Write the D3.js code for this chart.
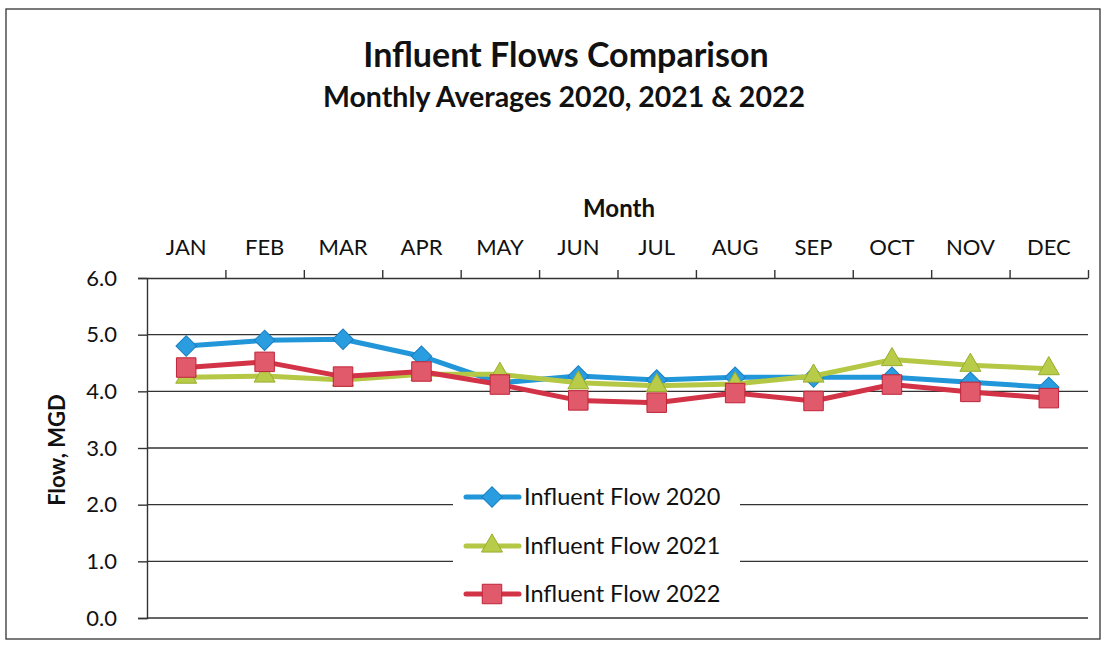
<!DOCTYPE html>
<html>
<head>
<meta charset="utf-8">
<script src="https://cdn.jsdelivr.net/npm/d3@7"></script>
<style>
  html, body { margin: 0; padding: 0; background: #fff; }
  svg { display: block; font-family: Lato, "Open Sans", sans-serif; }
</style>
</head>
<body>
<svg id="chart" width="1105" height="647"></svg>
<script>
const months = ["JAN","FEB","MAR","APR","MAY","JUN","JUL","AUG","SEP","OCT","NOV","DEC"];
const flow2020 = [4.80, 4.90, 4.92, 4.62, 4.15, 4.27, 4.20, 4.25, 4.25, 4.25, 4.16, 4.07];
const flow2021 = [4.25, 4.27, 4.20, 4.30, 4.30, 4.15, 4.10, 4.13, 4.27, 4.56, 4.46, 4.40];
const flow2022 = [4.42, 4.52, 4.26, 4.35, 4.12, 3.84, 3.80, 3.97, 3.83, 4.12, 3.99, 3.88];
const seriesNames = ["Influent Flow 2020", "Influent Flow 2021", "Influent Flow 2022"];
const yTicks = [0, 1, 2, 3, 4, 5, 6];

const svg = d3.select("#chart");
const plot = { left: 147, right: 1088, top: 278, bottom: 618 };

// outer border
svg.append("rect").attr("x", 6).attr("y", 9).attr("width", 1094).attr("height", 630)
  .attr("fill", "#fff").attr("stroke", "#333").attr("stroke-width", 1.3);

// titles
svg.append("text").attr("x", 566).attr("y", 67).attr("text-anchor", "middle")
  .attr("font-size", 34).attr("font-weight", 700).attr("fill", "#111")
  .text("Influent Flows Comparison");
svg.append("text").attr("x", 564).attr("y", 107).attr("text-anchor", "middle")
  .attr("font-size", 28.5).attr("font-weight", 700).attr("fill", "#111")
  .text("Monthly Averages 2020, 2021 & 2022");

const x = d3.scaleBand().domain(months).range([plot.left, plot.right]).paddingInner(0).paddingOuter(0);
const xIdx = d3.scaleLinear().domain([0, months.length]).range([plot.left, plot.right]);
const y = d3.scaleLinear().domain([0, 6]).range([plot.bottom, plot.top]);
const cx = m => x(m) + x.bandwidth() / 2;

// gridlines
svg.append("g").selectAll("line").data(yTicks.filter(t => t < 6)).join("line")
  .attr("x1", plot.left).attr("x2", plot.right)
  .attr("y1", d => y(d)).attr("y2", d => y(d))
  .attr("stroke", "#333").attr("stroke-width", 1.4);

// y axis
const yAxis = svg.append("g").attr("transform", `translate(${plot.left},0)`)
  .call(d3.axisLeft(y).tickValues(yTicks).tickFormat(d3.format(".1f")).tickSize(9).tickPadding(21));
yAxis.select(".domain").attr("stroke", "#333").attr("stroke-width", 1.4);
yAxis.selectAll(".tick line").attr("stroke", "#333").attr("stroke-width", 1.4);
yAxis.selectAll(".tick text").attr("font-size", 22).attr("fill", "#111")
  .attr("font-family", "Lato, 'Open Sans', sans-serif");

// top x axis (ticks at category boundaries)
const xAxis = svg.append("g").attr("transform", `translate(0,${plot.top})`)
  .call(d3.axisTop(xIdx).tickValues(d3.range(1, months.length + 1)).tickFormat("").tickSize(8).tickSizeOuter(0));
xAxis.select(".domain").attr("stroke", "#333").attr("stroke-width", 1.4);
xAxis.selectAll(".tick line").attr("stroke", "#333").attr("stroke-width", 1.4);

// month labels
const xLab = svg.append("g").attr("transform", `translate(0,${plot.top})`)
  .call(d3.axisTop(x).tickSize(0).tickPadding(23));
xLab.select(".domain").remove();
xLab.selectAll(".tick text").attr("font-size", 22).attr("fill", "#111")
  .attr("font-family", "Lato, 'Open Sans', sans-serif");

// axis titles
svg.append("text").attr("x", 619).attr("y", 217).attr("text-anchor", "middle")
  .attr("font-size", 24).attr("font-weight", 700).attr("fill", "#111").text("Month");
svg.append("text").attr("transform", "translate(65,450) rotate(-90)").attr("text-anchor", "middle")
  .attr("font-size", 22).attr("font-weight", 700).attr("fill", "#111").text("Flow, MGD");

// series
const series = [
  { name: seriesNames[0], values: flow2020, line: "#2196d8", fill: "#2a9de0", stroke: "#1a7fc2", shape: d3.symbolSquare, rot: 45, size: 210 },
  { name: seriesNames[1], values: flow2021, line: "#b4c845", fill: "#b8cc4a", stroke: "#98ad2c", shape: d3.symbolTriangle, rot: 0, size: 190 },
  { name: seriesNames[2], values: flow2022, line: "#d33347", fill: "#e05a6b", stroke: "#bf2438", shape: d3.symbolSquare, rot: 0, size: 380 }
];

const lineGen = d3.line().x((d, i) => cx(months[i])).y(d => y(d));

series.forEach(s => {
  const g = svg.append("g");
  g.append("path").datum(s.values).attr("d", lineGen)
    .attr("fill", "none").attr("stroke", s.line).attr("stroke-width", 5)
    .attr("stroke-linejoin", "round").attr("stroke-linecap", "round");
  g.selectAll("path.m").data(s.values).join("path").attr("class", "m")
    .attr("transform", (d, i) => `translate(${cx(months[i])},${y(d)}) rotate(${s.rot})`)
    .attr("d", d3.symbol().type(s.shape).size(s.size))
    .attr("fill", s.fill).attr("stroke", s.stroke).attr("stroke-width", 1);
});

// legend (white box inside plot)
const legend = { x: 453, y: 477, w: 287, h: 136 };
svg.append("rect").attr("x", legend.x).attr("y", legend.y).attr("width", legend.w).attr("height", legend.h)
  .attr("fill", "#fff");

const legendY = [497, 546, 594];
series.forEach((s, i) => {
  const ly = legendY[i];
  const g = svg.append("g");
  g.append("line").attr("x1", 466).attr("x2", 519).attr("y1", ly).attr("y2", ly)
    .attr("stroke", s.line).attr("stroke-width", 5).attr("stroke-linecap", "round");
  g.append("path").attr("transform", `translate(492,${ly}) rotate(${s.rot})`)
    .attr("d", d3.symbol().type(s.shape).size(s.size))
    .attr("fill", s.fill).attr("stroke", s.stroke).attr("stroke-width", 1);
  g.append("text").attr("x", 524).attr("y", ly + 8).attr("font-size", 23.5).attr("fill", "#111")
    .text(s.name);
});
</script>
</body>
</html>
